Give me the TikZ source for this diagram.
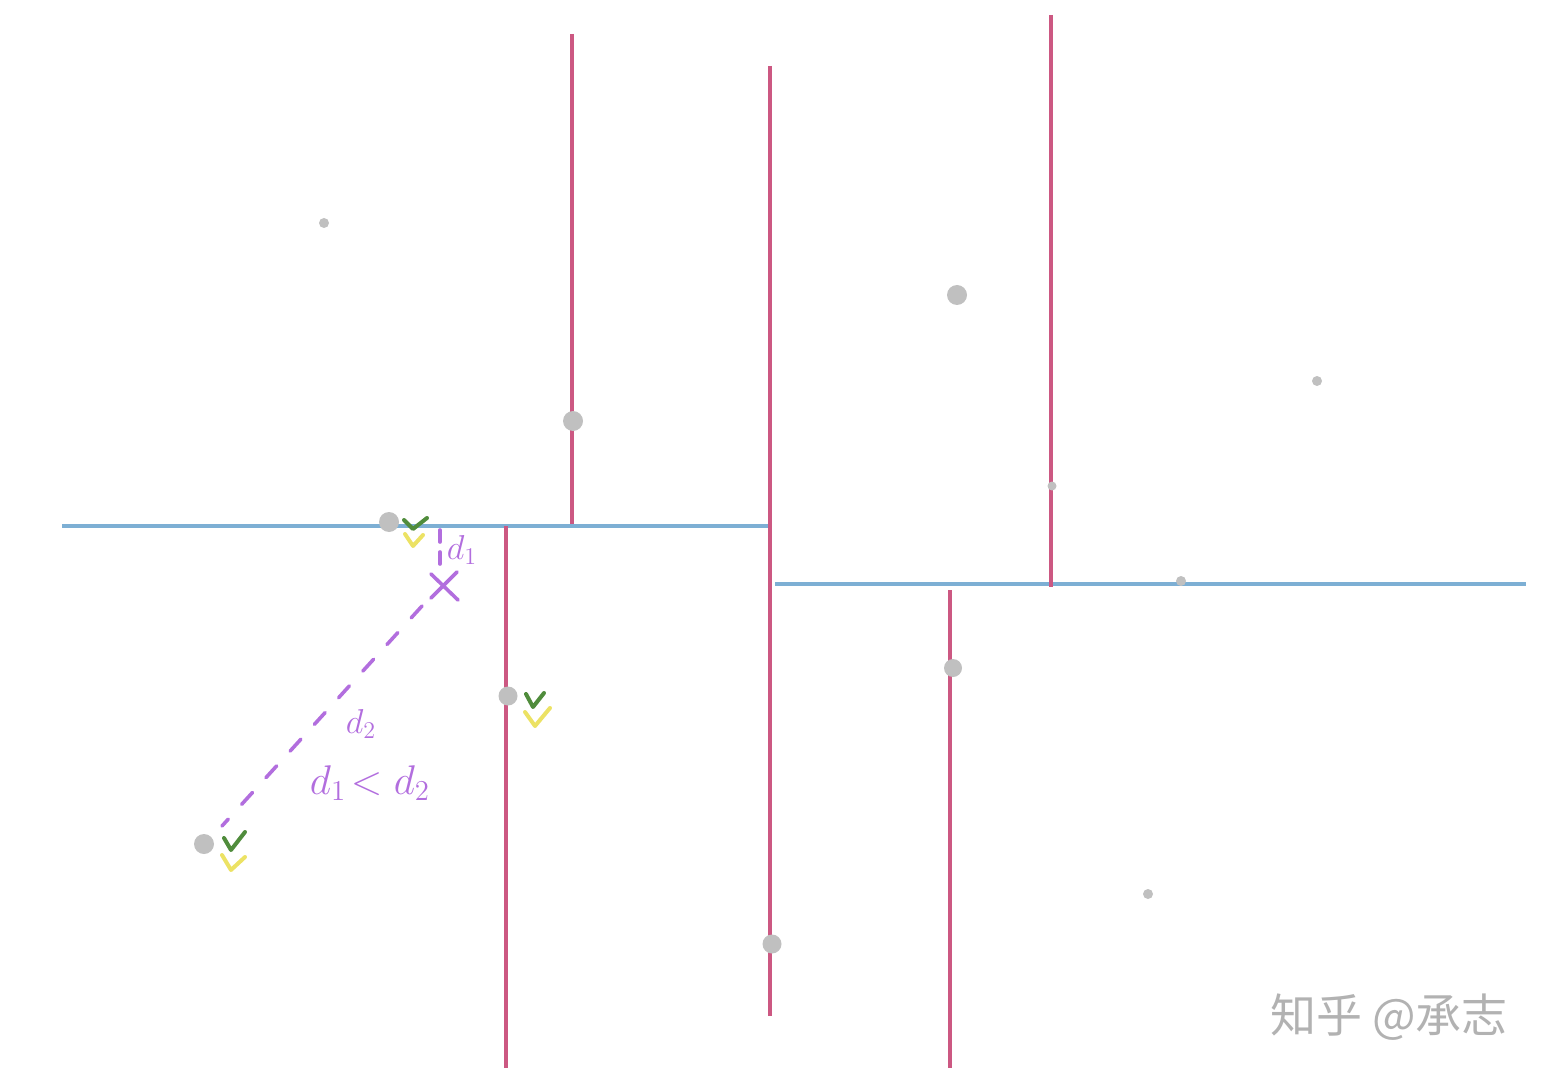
\documentclass[tikz,border=0pt]{standalone}
\usepackage{fontspec}
\newfontfamily\cjk{Noto Sans CJK SC}
\definecolor{splitred}{RGB}{204,88,130}
\definecolor{splitblue}{RGB}{125,175,212}
\definecolor{ptgray}{RGB}{192,192,192}
\definecolor{chkgreen}{RGB}{80,140,60}
\definecolor{chkyellow}{RGB}{236,226,100}
\definecolor{annot}{RGB}{178,110,222}
\definecolor{wmgray}{RGB}{178,178,178}
\begin{document}
\begin{tikzpicture}[x=0.5pt,y=-0.5pt,
  redline/.style={draw=splitred,line width=1.6pt},
  blueline/.style={draw=splitblue,line width=1.6pt},
  bigpt/.style={circle,fill=ptgray,inner sep=0pt,minimum size=10pt},
  smallpt/.style={circle,fill=ptgray,inner sep=0pt,minimum size=5pt},
  gchk/.style={draw=chkgreen,line width=2pt,line cap=round,line join=round},
  ychk/.style={draw=chkyellow,line width=2pt,line cap=round,line join=round},
  annotline/.style={draw=annot,line width=1.8pt,line cap=round},
  annottext/.style={text=annot,font=\fontsize{18}{21}\selectfont,inner sep=0pt}]
\useasboundingbox (0,0) rectangle (1551,1080);
% coordinates
\coordinate (b1s) at (62,526); \coordinate (b1e) at (768,526);
\coordinate (b2s) at (775,584); \coordinate (b2e) at (1526,584);
\coordinate (r1s) at (572,34); \coordinate (r1e) at (572,524);
\coordinate (r2s) at (770,66); \coordinate (r2e) at (770,1016);
\coordinate (r3s) at (1051,15); \coordinate (r3e) at (1051,587);
\coordinate (r4s) at (506,526); \coordinate (r4e) at (506,1068);
\coordinate (r5s) at (950,590); \coordinate (r5e) at (950,1068);
% split lines
\draw[blueline] (b1s) -- (b1e);
\draw[blueline] (b2s) -- (b2e);
\draw[redline] (r1s) -- (r1e);
\draw[redline] (r2s) -- (r2e);
\draw[redline] (r3s) -- (r3e);
\draw[redline] (r4s) -- (r4e);
\draw[redline] (r5s) -- (r5e);
% points
\node[smallpt] (p1) at (324,223) {};
\node[bigpt] (p2) at (957,295) {};
\node[smallpt] (p3) at (1317,381) {};
\node[bigpt] (p4) at (573,421) {};
\node[smallpt,minimum size=4.5pt] (p5) at (1052,486) {};
\node[bigpt] (p6) at (389,522) {};
\node[smallpt] (p7) at (1181,581) {};
\node[bigpt,minimum size=9pt] (p8) at (953,668) {};
\node[bigpt,minimum size=9.5pt] (p9) at (508,696) {};
\node[bigpt] (p10) at (204,844) {};
\node[smallpt] (p11) at (1148,894) {};
\node[bigpt,minimum size=9.5pt] (p12) at (772,944) {};
% checks
\draw[gchk] (404,520) -- (413,529) -- (427,518);
\draw[ychk] (405,534) -- (413,546) -- (423,535);
\draw[gchk] (526,694) -- (533,707) -- (544,693);
\draw[ychk] (525,712) -- (535,726) -- (550,708);
\draw[gchk] (224,838) -- (231,850) -- (245,832);
\draw[ychk] (222,855) -- (231,870) -- (245,857);
% annotation
\coordinate (tt) at (440,530);
\coordinate (tb) at (440,568);
\draw[annotline,dash pattern=on 6pt off 5pt] (tt) -- (tb);
\node[annottext] (d1) at (462,550) {$d_1$};
\draw[annotline] (431,574) -- (458,600);
\draw[annotline] (457,572) -- (431,598);
\coordinate (ds) at (422,606);
\coordinate (de) at (222,826);
\draw[annotline,dash pattern=on 8pt off 10pt] (ds) -- (de);
\node[annottext] (d2) at (361,724) {$d_2$};
\node[annottext,font=\fontsize{22}{25}\selectfont] (ineq) at (370,783) {$d_1\!<d_2$};
% watermark
\node[text=wmgray,font=\cjk\fontsize{23}{26}\selectfont,inner sep=0pt] (wm) at (1389,1017) {知乎 @承志};
\end{tikzpicture}
\end{document}
